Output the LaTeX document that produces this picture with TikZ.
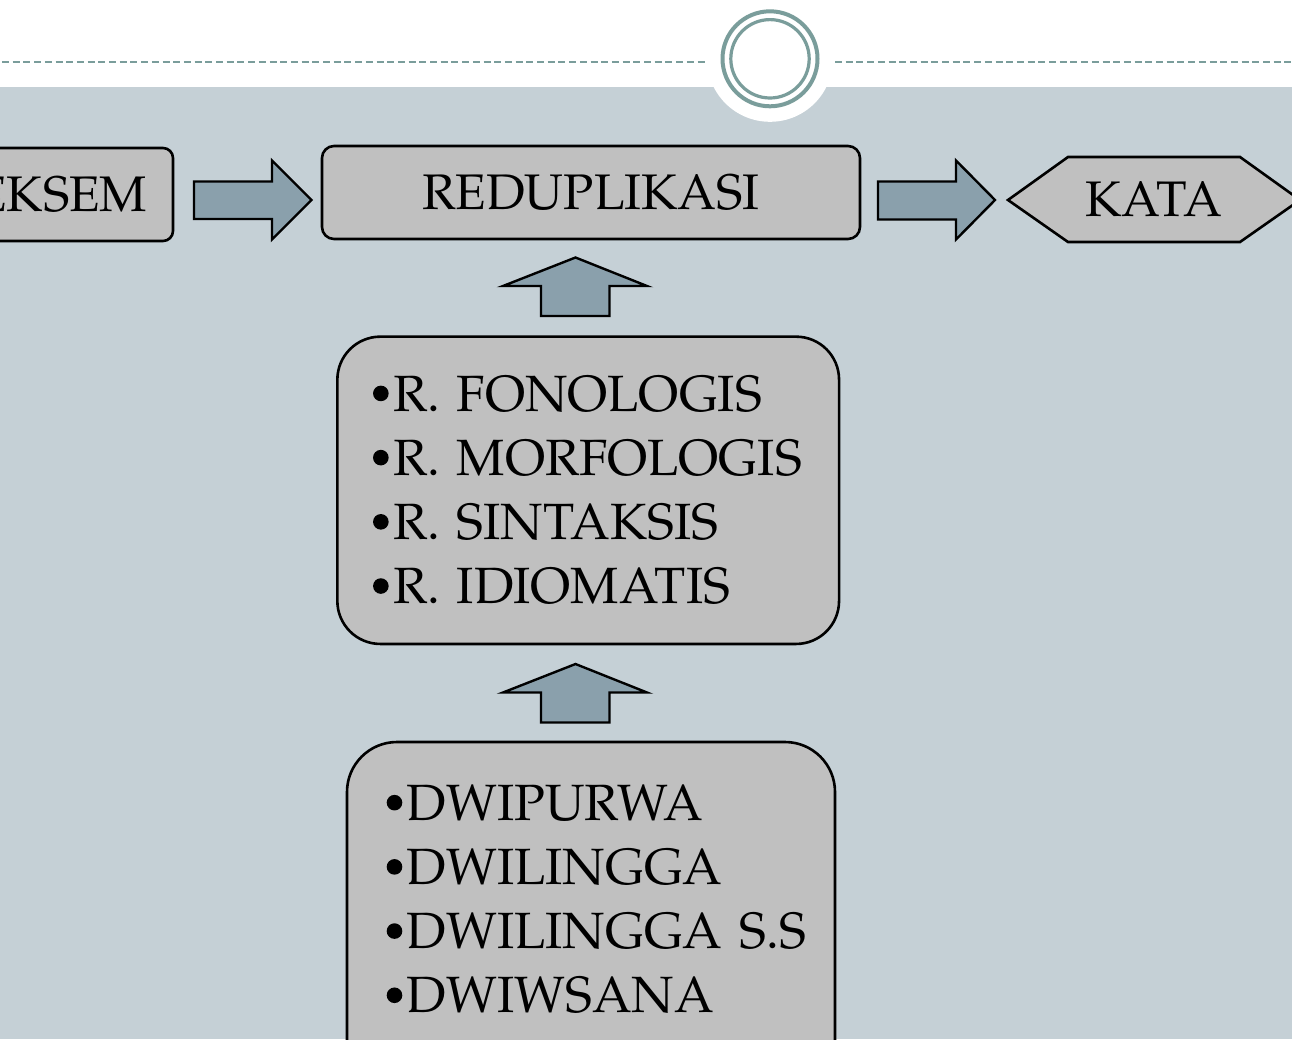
\documentclass[tikz,border=0pt]{standalone}
\usepackage[T1]{fontenc}
\usepackage{mathpazo}
\definecolor{bgblue}{RGB}{197,208,214}
\definecolor{ringcol}{RGB}{122,157,155}
\definecolor{boxfill}{RGB}{192,192,192}
\definecolor{arrfill}{RGB}{138,160,172}
\tikzset{
  nodebox/.style={draw=black, line width=2.6pt, fill=boxfill, inner sep=0pt},
  toplabel/.style={font=\fontsize{50}{60}\selectfont},
  listbox/.style={nodebox, align=left, font=\fontsize{51}{64.2}\selectfont},
  blockarrow/.style={draw=black, line width=2.4pt, fill=arrfill, line join=miter},
  dashrule/.style={draw=ringcol, line width=2.2pt, dash pattern=on 7pt off 3.7pt},
}
\newcommand{\bul}{\leavevmode\hbox to 20pt{\tikz[baseline=0pt]\fill (7.8pt,17.7pt) circle[radius=7.8pt];\hss}}
\begin{document}
\begin{tikzpicture}[x=1pt,y=-1pt]
\useasboundingbox (0,0) rectangle (1292,1039);
\clip (0,0) rectangle (1292,1039);
\fill[white] (0,0) rectangle (1292,1039);
\fill[bgblue] (0,87) rectangle (1292,1039);
\fill[white] (770,58.8) circle[radius=63];
\draw[dashrule] (2,62) -- (705,62);
\draw[dashrule] (835,62) -- (1292,62);
\draw[ringcol, line width=4pt] (770,58.8) circle[radius=47.5];
\draw[ringcol, line width=3.2pt] (770,58.8) circle[radius=39.2];

\node[nodebox, rounded corners=10pt, minimum width=253pt, minimum height=93pt, toplabel] (lek) at (46.5,194.5) {LEKSEM};
\node[nodebox, rounded corners=12pt, minimum width=538pt, minimum height=93pt, toplabel] (red) at (591,192.5) {REDUPLIKASI};
\draw[nodebox] (1008,200) -- (1068,157) -- (1240,157) -- (1300,200) -- (1240,242) -- (1068,242) -- cycle;
\node[toplabel] (kata) at (1154,199.5) {KATA};

\node[listbox, rounded corners=43pt, minimum width=501.7pt, minimum height=307.3pt, text width=430.3pt, inner xsep=35.7pt, inner ysep=0pt] (b3) at (588.2,490.3)
  {\noindent\bul R.~FONOLOGIS\\\bul R.~MORFOLOGIS\\\bul R.~SINTAKSIS\\\bul R.~IDIOMATIS};
\node[listbox, rounded corners=50pt, minimum width=488pt, minimum height=368pt, text width=408.6pt, text depth=246.6pt, inner xsep=39.7pt, inner ysep=0pt] (b4) at (591,926)
  {\noindent\bul DWIPURWA\\\bul DWILINGGA\\\bul DWILINGGA~S.S\\\bul DWIWSANA};

\draw[blockarrow] (194,181.5) -- (272,181.5) -- (272,160.5) -- (311.5,200) -- (272,239.5) -- (272,219) -- (194,219) -- cycle;
\draw[blockarrow] (878,181.5) -- (956,181.5) -- (956,160.5) -- (995,200) -- (956,239.5) -- (956,219.5) -- (878,219.5) -- cycle;
\draw[blockarrow] (541,316) -- (541,286) -- (503,286) -- (575.5,257.5) -- (647,286) -- (609.5,286) -- (609.5,316) -- cycle;
\draw[blockarrow] (541,722.5) -- (541,692.5) -- (503,692.5) -- (575.5,664) -- (647,692.5) -- (609.5,692.5) -- (609.5,722.5) -- cycle;
\end{tikzpicture}
\end{document}
